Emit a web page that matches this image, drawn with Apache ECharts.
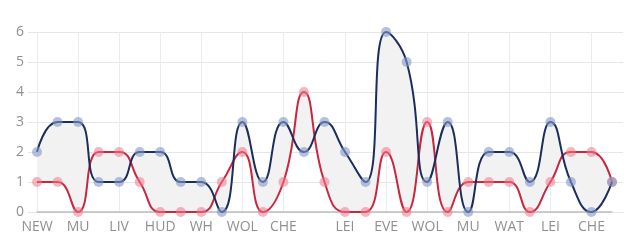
<!DOCTYPE html>
<html>
<head>
<meta charset="utf-8">
<script src="https://cdn.jsdelivr.net/npm/echarts@6/dist/echarts.min.js"></script>
<style>
html,body{margin:0;padding:0;background:#fff;}
#chart{width:637px;height:249px;}
</style>
</head>
<body>
<div id="chart"></div>
<script>
const categories = ['NEW','TOT','MU','ARS','LIV','BOU','HUD','BUR','WH','SOU','WOL','CRY','CHE','FUL','BHA','LEI','NEW','EVE','ARS','WOL','TOT','MU','LIV','WAT','BOU','LEI','HUD','CHE','SOU'];
const shownTicks = [0,2,4,6,8,10,12,15,17,19,21,23,25,27];
const blueValues = [2,3,3,1,1,2,2,1,1,0,3,1,3,2,3,2,1,6,5,1,3,0,2,2,1,3,1,0,1];
const redValues  = [1,1,0,2,2,1,0,0,0,1,2,0,1,4,1,0,0,2,0,3,0,1,1,1,0,1,2,2,1];
const yTicks = [0,1,2,3,4,5,6];

const diffValues = blueValues.map((v, i) => v - redValues[i]);
const showSet = new Set(shownTicks);
const chart = echarts.init(document.getElementById('chart'));
const font = '"Open Sans", "DejaVu Sans", sans-serif';
const yMin = yTicks[0], yMax = yTicks[yTicks.length - 1];

chart.setOption({
  animation: false,
  grid: { left: 37, right: 25, top: 32, bottom: 37 },
  xAxis: {
    type: 'category',
    data: categories,
    boundaryGap: false,
    axisLine: { lineStyle: { color: '#bdbdbd', width: 1.5 } },
    axisTick: { show: false },
    axisLabel: {
      interval: (i) => showSet.has(i),
      color: '#909090', fontSize: 14, fontFamily: font, margin: 8
    },
    splitLine: {
      show: true,
      interval: (i) => showSet.has(i),
      lineStyle: { color: '#ececec', width: 1 }
    }
  },
  yAxis: [
    {
      type: 'value',
      min: yMin, max: yMax, interval: 1,
      axisLine: { show: false },
      axisTick: { show: true, length: 9, lineStyle: { color: '#e6e6e6' } },
      axisLabel: { color: '#909090', fontSize: 14, fontFamily: font, margin: 13 },
      splitLine: { lineStyle: { color: '#e6e6e6', width: 1 } }
    },
    {
      type: 'value', position: 'right',
      min: yMin, max: yMax, interval: 1,
      axisLine: { show: false },
      axisTick: { show: true, length: 11, lineStyle: { color: '#e6e6e6' } },
      axisLabel: { show: false },
      splitLine: { show: false }
    }
  ],
  series: [
    {
      name: 'red', type: 'line', data: redValues, stack: 'fill', stackStrategy: 'all',
      smooth: 0.5, symbol: 'circle', symbolSize: 10, z: 3,
      lineStyle: { color: '#c9263f', width: 2 },
      itemStyle: { color: 'rgba(240,120,140,0.55)' }
    },
    {
      name: 'band', type: 'line', data: diffValues, stack: 'fill', stackStrategy: 'all',
      smooth: 0.5, showSymbol: false, symbol: 'none', z: 1,
      lineStyle: { opacity: 0, width: 0 },
      areaStyle: { color: '#f2f2f2', opacity: 1 }
    },
    {
      name: 'blue', type: 'line', data: blueValues,
      smooth: 0.5, symbol: 'circle', symbolSize: 10, z: 4,
      lineStyle: { color: '#1b2d5c', width: 2 },
      itemStyle: { color: 'rgba(130,150,200,0.6)' }
    }
  ]
});
</script>
</body>
</html>
